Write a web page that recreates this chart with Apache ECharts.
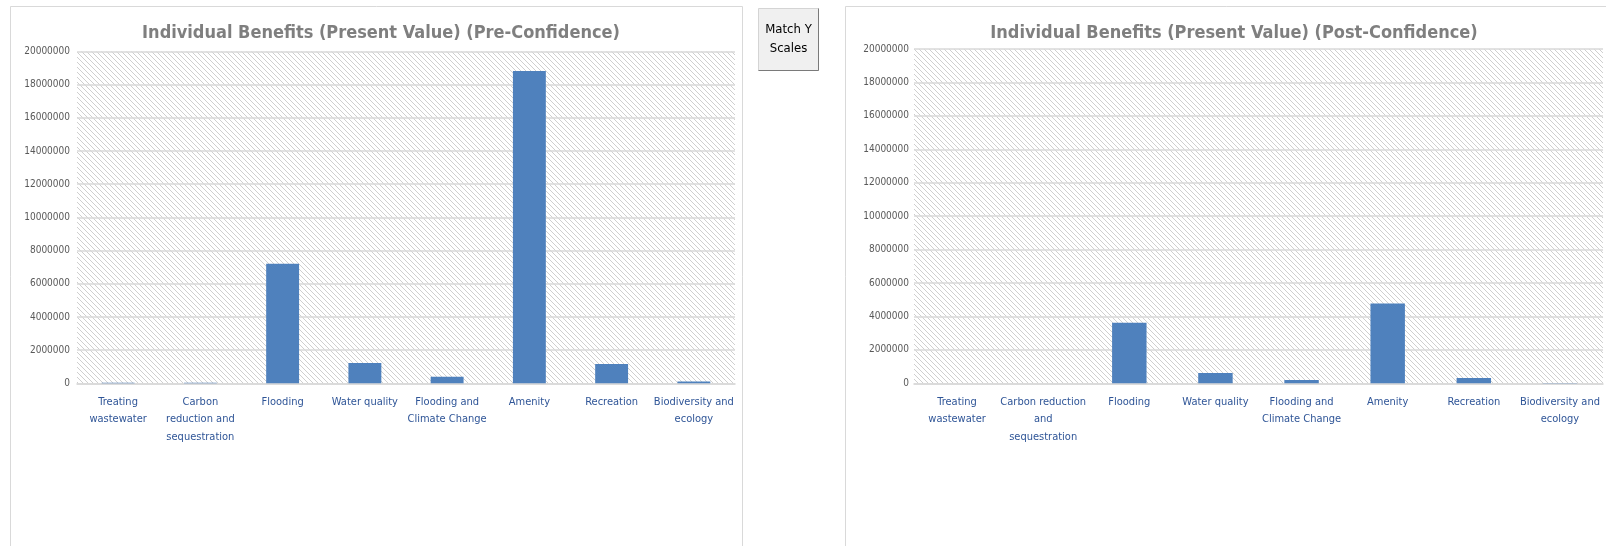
<!DOCTYPE html>
<html>
<head>
<meta charset="utf-8">
<script src="https://cdn.jsdelivr.net/npm/echarts@6/dist/echarts.min.js"></script>
<style>
  html, body { margin: 0; padding: 0; background: #ffffff; }
  #chart { width: 1606px; height: 546px; }
</style>
</head>
<body>
<div id="chart"></div>
<script>
// Benefit categories shared by both panels
const categories = [
  'Treating wastewater',
  'Carbon reduction and sequestration',
  'Flooding',
  'Water quality',
  'Flooding and Climate Change',
  'Amenity',
  'Recreation',
  'Biodiversity and ecology'
];

// Wrapped tick labels for each panel (the panels differ in width)
const preTickLabels = [
  'Treating\nwastewater',
  'Carbon\nreduction and\nsequestration',
  'Flooding',
  'Water quality',
  'Flooding and\nClimate Change',
  'Amenity',
  'Recreation',
  'Biodiversity and\necology'
];
const postTickLabels = [
  'Treating\nwastewater',
  'Carbon reduction\nand\nsequestration',
  'Flooding',
  'Water quality',
  'Flooding and\nClimate Change',
  'Amenity',
  'Recreation',
  'Biodiversity and\necology'
];

// Present value of each benefit, before and after confidence adjustment
const preConfidence = [40000, 35000, 7200000, 1230000, 400000, 18820000, 1160000, 110000];
const postConfidence = [8000, 8000, 3620000, 620000, 200000, 4780000, 320000, 15000];

// Value axis
const yMin = 0;
const yMax = 20000000;
const yStep = 2000000;

const titles = [
  'Individual Benefits (Present Value) (Pre-Confidence)',
  'Individual Benefits (Present Value) (Post-Confidence)'
];

const FONT = "'Liberation Sans Narrow', 'DejaVu Sans Condensed', 'Liberation Sans', sans-serif";
const BAR_COLOR = '#4f81bd';
const GRID_LINE = '#d9d9d9';

// Diagonal hatch used to fill the plot areas
function hatchPattern() {
  const s = 5;
  const c = document.createElement('canvas');
  c.width = s; c.height = s;
  const ctx = c.getContext('2d');
  ctx.fillStyle = '#ffffff';
  ctx.fillRect(0, 0, s, s);
  ctx.strokeStyle = '#cfcfcf';
  ctx.lineWidth = 1;
  for (const k of [-s, 0, s]) {
    ctx.beginPath();
    ctx.moveTo(k, 0);
    ctx.lineTo(k + s, s);
    ctx.stroke();
  }
  return { image: c, repeat: 'repeat' };
}
const hatch = hatchPattern();

const grids = [
  { left: 77, top: 51.5, width: 658, height: 331.8 },
  { left: 914, top: 49, width: 689, height: 334.3 }
];

function yAxisFor(gridIndex) {
  return {
    type: 'value',
    gridIndex: gridIndex,
    min: yMin,
    max: yMax,
    interval: yStep,
    axisLine: { show: false },
    axisTick: { show: false },
    axisLabel: {
      color: '#595959',
      fontFamily: FONT,
      fontSize: 10,
      margin: gridIndex === 0 ? 7 : 5,
      formatter: v => String(v)
    },
    splitLine: { lineStyle: { color: GRID_LINE, width: 1.6 } }
  };
}

function xAxisFor(gridIndex, labels) {
  return {
    type: 'category',
    gridIndex: gridIndex,
    data: categories,
    axisTick: { show: false },
    axisLine: { lineStyle: { color: GRID_LINE, width: 1.6 } },
    axisLabel: {
      interval: 0,
      color: '#2f5597',
      fontFamily: FONT,
      fontSize: 11,
      lineHeight: 17.5,
      margin: 10,
      formatter: (v, i) => labels[i]
    }
  };
}

const chart = echarts.init(document.getElementById('chart'), null, { renderer: 'canvas' });

chart.setOption({
  animation: false,
  backgroundColor: '#ffffff',
  graphic: [
    // Panel frames
    { type: 'rect', z: -10, shape: { x: 10.5, y: 6.5, width: 732, height: 600 },
      style: { fill: '#ffffff', stroke: GRID_LINE, lineWidth: 1 } },
    { type: 'rect', z: -10, shape: { x: 845.5, y: 6.5, width: 800, height: 600 },
      style: { fill: '#ffffff', stroke: GRID_LINE, lineWidth: 1 } },
    // "Match Y Scales" button
    { type: 'group', left: 756, top: 6, children: [
      { type: 'rect', shape: { x: 0.5, y: 0.5, width: 60, height: 62 },
        style: { fill: '#f0f0f0', stroke: '#d4d4d4', lineWidth: 1 } },
      { type: 'polyline', shape: { points: [[0.5, 62.5], [60.5, 62.5], [60.5, 0.5]] },
        style: { stroke: '#7a7a7a', lineWidth: 1, fill: null } },
      { type: 'text', x: 30.5, y: 31,
        style: { text: 'Match Y\nScales', fill: '#000000', font: '13px ' + FONT,
                 align: 'center', verticalAlign: 'middle', lineHeight: 19 } }
    ] }
  ],
  title: [
    { text: titles[0], left: 376, top: 19, textAlign: 'center',
      textStyle: { color: '#7f7f7f', fontFamily: FONT, fontWeight: 'bold', fontSize: 18 } },
    { text: titles[1], left: 1229, top: 19, textAlign: 'center',
      textStyle: { color: '#7f7f7f', fontFamily: FONT, fontWeight: 'bold', fontSize: 18 } }
  ],
  grid: grids.map(g => Object.assign({ show: true, backgroundColor: hatch, borderWidth: 0 }, g)),
  xAxis: [xAxisFor(0, preTickLabels), xAxisFor(1, postTickLabels)],
  yAxis: [yAxisFor(0), yAxisFor(1)],
  series: [
    { type: 'bar', xAxisIndex: 0, yAxisIndex: 0, data: preConfidence,
      barCategoryGap: '60%', itemStyle: { color: BAR_COLOR } },
    { type: 'bar', xAxisIndex: 1, yAxisIndex: 1, data: postConfidence,
      barCategoryGap: '60%', itemStyle: { color: BAR_COLOR } }
  ]
});
</script>
</body>
</html>
